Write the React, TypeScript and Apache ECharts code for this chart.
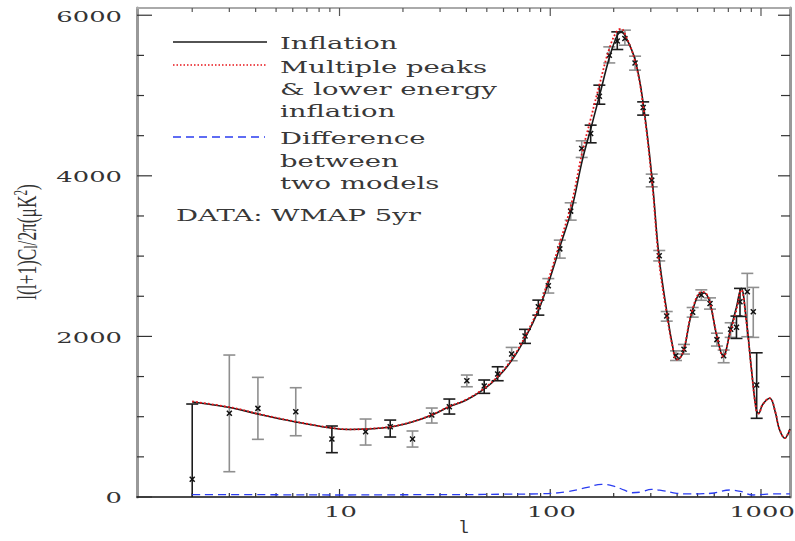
import React, { useEffect, useRef } from "react";
import * as echarts from "echarts";

// ---- model curves (multipole l, value in μK²) ----
const modelL = [2, 3.1, 4.1, 6.2, 9.1, 11.2, 13.4, 17.4, 22.1, 27.5, 33, 40, 48.5, 56.5, 65.8, 76, 88, 97.6, 111, 126, 142, 156, 171, 191, 208, 217, 226, 253, 276, 304, 328, 360, 380, 398, 413, 431, 471, 523, 540, 571, 617, 662, 716, 763, 805, 852, 902, 950, 975, 1017, 1100, 1171, 1220, 1300, 1340, 1373];
const inflation = [1183, 1108, 1033, 934, 859, 840, 846, 871, 934, 1021, 1120, 1208, 1344, 1494, 1705, 1979, 2328, 2652, 3112, 3573, 4195, 4594, 4992, 5477, 5751, 5790, 5751, 5440, 4905, 3971, 3000, 2253, 1892, 1714, 1730, 1830, 2303, 2543, 2540, 2428, 2004, 1755, 2079, 2353, 2598, 2203, 1581, 1083, 1042, 1150, 1229, 1050, 850, 731, 780, 846];
const multiplePeaks = [1190, 1112, 1036, 938, 862, 843, 848, 874, 937, 1025, 1125, 1214, 1352, 1505, 1720, 2000, 2355, 2690, 3165, 3650, 4300, 4720, 5130, 5590, 5810, 5830, 5770, 5420, 4870, 3920, 2940, 2220, 1880, 1712, 1735, 1840, 2320, 2555, 2550, 2435, 2010, 1750, 2060, 2320, 2580, 2190, 1570, 1080, 1040, 1150, 1232, 1055, 855, 735, 782, 848];

// ---- difference between the two models ----
const diffL = [2, 5, 10, 20, 40, 60, 90, 120, 150, 175, 200, 225, 244, 270, 302, 340, 398, 450, 510, 600, 711, 800, 916, 1000, 1200, 1373];
const difference = [30, 28, 25, 28, 30, 35, 40, 66, 120, 158, 135, 85, 53, 62, 96, 80, 46, 38, 40, 50, 87, 70, 25, 30, 40, 40];

// ---- WMAP 5yr data points ----
const obsL = [2, 3, 4.1, 6.2, 9.2, 13.3, 17.4, 22.2, 27.4, 33.2, 40.2, 48.6, 56.3, 65.6, 75.9, 87.8, 97.9, 111, 125, 141, 155.5, 171, 190.6, 208, 226, 252.6, 276, 303, 329, 357, 395, 431, 474, 521, 573, 618, 665, 718, 765, 795, 861, 919, 954];
const obsVal = [220, 1042, 1104, 1062, 722, 813, 875, 722, 1021, 1124, 1448, 1382, 1531, 1780, 2004, 2369, 2630, 3090, 3560, 4341, 4527, 4992, 5502, 5680, 5710, 5406, 4851, 3946, 3005, 2253, 1762, 1840, 2300, 2515, 2411, 1960, 1760, 2090, 2115, 2431, 2556, 2307, 1394];
const obsLow = [-500, 315, 718, 763, 552, 647, 747, 622, 921, 1033, 1373, 1291, 1448, 1697, 1913, 2265, 2540, 2975, 3448, 4229, 4411, 4892, 5406, 5573, 5627, 5316, 4756, 3863, 2940, 2190, 1700, 1780, 2240, 2450, 2340, 1880, 1672, 1988, 1975, 2249, 1996, 1988, 980];
const obsHigh = [1158, 1768, 1490, 1361, 884, 971, 958, 822, 1108, 1220, 1519, 1457, 1622, 1863, 2088, 2452, 2720, 3199, 3664, 4436, 4631, 5129, 5606, 5793, 5814, 5490, 4921, 4021, 3070, 2310, 1820, 1900, 2360, 2580, 2480, 2040, 1830, 2170, 2253, 2598, 2785, 2610, 1796];
const obsTone = [0, 1, 1, 1, 0, 1, 0, 1, 1, 0, 1, 0, 0, 1, 0, 0, 1, 1, 1, 1, 0, 0, 1, 0, 1, 1, 0, 1, 1, 1, 1, 1, 1, 1, 1, 1, 1, 1, 0, 0, 1, 1, 0];

// ---- ticks and tick labels ----
const xMajorTicks = [10, 100, 1000];
const xTickLabels = ["10", "100", "1000"];
const xMinorTicks = [2, 3, 4, 5, 6, 7, 8, 9, 20, 30, 40, 50, 60, 70, 80, 90, 200, 300, 400, 500, 600, 700, 800, 900];
const yMajorTicks = [0, 2000, 4000, 6000];
const yTickLabels = ["0", "2000", "4000", "6000"];
const yMinorTicks = [500, 1000, 1500, 2500, 3000, 3500, 4500, 5000, 5500];

const SERIF = "'DejaVu Serif', serif";
const MONO = "'Liberation Mono', 'DejaVu Sans Mono', monospace";
const STRETCH = 1.72;

export default function App() {
  const ref = useRef<HTMLDivElement>(null);

  useEffect(() => {
    if (!ref.current) return;
    const chart = echarts.init(ref.current, null, { renderer: "svg" });

    const xTickData = [
      ...xMajorTicks.map((v, i) => [v, 3000, 1, i]),
      ...xMinorTicks.map((v) => [v, 3000, 0, -1]),
    ];
    const yTickData = [
      ...yMajorTicks.map((v, i) => [10, v, 1, i]),
      ...yMinorTicks.map((v) => [10, v, 0, -1]),
    ];
    const obsData = obsL.map((l, i) => [l, obsVal[i], obsLow[i], obsHigh[i], obsTone[i]]);

    const tickText = (text: string, x: number, y: number, align: string) => ({
      type: "text",
      x,
      y,
      scaleX: STRETCH,
      style: { text, fontFamily: SERIF, fontSize: 15, fill: "#333", align, verticalAlign: "middle" },
    });

    const legendText = (text: string, x: number, y: number) => ({
      type: "text",
      x,
      y,
      scaleX: STRETCH,
      z: 100,
      style: {
        text,
        fontFamily: SERIF,
        fontSize: 16,
        fill: "#383838",
        verticalAlign: "middle",
        align: "left",
      },
    });

    const option: any = {
      animation: false,
      backgroundColor: "#ffffff",
      grid: { left: 137, right: 5, top: 8, bottom: 44, containLabel: false, outerBoundsMode: "none" },
      xAxis: [
        {
          type: "log",
          logBase: 10,
          min: 1.094,
          max: 1373,
          position: "bottom",
          axisLine: { onZero: false, lineStyle: { color: "#111", width: 1.5 } },
          axisTick: { show: false },
          minorTick: { show: false },
          splitLine: { show: false },
          axisLabel: { show: false },
          name: "l",
          nameLocation: "middle",
          nameGap: 22,
          nameTextStyle: { fontFamily: MONO, fontSize: 18, color: "#333" },
        },
        {
          type: "log",
          logBase: 10,
          min: 1.094,
          max: 1373,
          position: "top",
          axisLine: { onZero: false, lineStyle: { color: "#aaa", width: 2 } },
          axisTick: { show: false },
          axisLabel: { show: false },
          splitLine: { show: false },
        },
      ],
      yAxis: [
        {
          type: "value",
          min: 0,
          max: 6090,
          interval: 2000,
          axisLine: { show: true, lineStyle: { color: "#999", width: 3 } },
          axisTick: { show: false },
          splitLine: { show: false },
          axisLabel: { show: false },
        },
        {
          type: "value",
          position: "right",
          min: 0,
          max: 6090,
          interval: 2000,
          axisLine: { show: true, lineStyle: { color: "#999", width: 3 } },
          axisTick: { show: false },
          axisLabel: { show: false },
          splitLine: { show: false },
        },
      ],
      series: [
        {
          type: "custom",
          name: "ticksX",
          xAxisIndex: 0,
          yAxisIndex: 0,
          encode: { x: 0, y: 1 },
          silent: true,
          data: xTickData,
          renderItem: (params: any, api: any) => {
            const cs = params.coordSys;
            const x = api.coord([api.value(0), 3000])[0];
            const major = api.value(2) === 1;
            const len = major ? 8 : 4;
            const bottom = cs.y + cs.height;
            const children: any[] = [
              { type: "line", shape: { x1: x, y1: bottom, x2: x, y2: bottom - len }, style: { stroke: "#333", lineWidth: 1.2 } },
              { type: "line", shape: { x1: x, y1: cs.y, x2: x, y2: cs.y + len }, style: { stroke: "#555", lineWidth: 1.2 } },
            ];
            if (major) children.push(tickText(xTickLabels[api.value(3)], x + 1, bottom + 15, "center"));
            return { type: "group", children };
          },
        },
        {
          type: "custom",
          name: "ticksY",
          xAxisIndex: 0,
          yAxisIndex: 0,
          encode: { x: 0, y: 1 },
          silent: true,
          data: yTickData,
          renderItem: (params: any, api: any) => {
            const cs = params.coordSys;
            const y = api.coord([10, api.value(1)])[1];
            const major = api.value(2) === 1;
            const len = major ? 15 : 7;
            const right = cs.x + cs.width;
            const children: any[] = [
              { type: "line", shape: { x1: cs.x, y1: y, x2: cs.x + len, y2: y }, style: { stroke: "#333", lineWidth: 1.2 } },
              { type: "line", shape: { x1: right, y1: y, x2: right - (major ? 12 : 9), y2: y }, style: { stroke: "#333", lineWidth: 1.2 } },
            ];
            if (major) children.push(tickText(yTickLabels[api.value(3)], cs.x - 15, y + 1, "right"));
            return { type: "group", children };
          },
        },
        {
          type: "custom",
          name: "DATA: WMAP 5yr",
          xAxisIndex: 0,
          yAxisIndex: 0,
          encode: { x: 0, y: 1 },
          data: obsData,
          renderItem: (params: any, api: any) => {
            const cs = params.coordSys;
            const bottom = cs.y + cs.height;
            const l = api.value(0);
            const [x, y] = api.coord([l, api.value(1)]);
            let yLo = api.coord([l, api.value(2)])[1];
            const yHi = api.coord([l, api.value(3)])[1];
            const clipped = yLo > bottom;
            if (clipped) yLo = bottom;
            const color = api.value(4) ? "#8f8f8f" : "#1c1c1c";
            const cw = 6;
            const children: any[] = [
              { type: "line", shape: { x1: x, y1: yLo, x2: x, y2: yHi }, style: { stroke: color, lineWidth: 1.6 } },
              { type: "line", shape: { x1: x - cw, y1: yHi, x2: x + cw, y2: yHi }, style: { stroke: color, lineWidth: 1.6 } },
            ];
            if (!clipped) {
              children.push({ type: "line", shape: { x1: x - cw, y1: yLo, x2: x + cw, y2: yLo }, style: { stroke: color, lineWidth: 1.6 } });
            }
            children.push({ type: "line", shape: { x1: x - 2.5, y1: y - 2.5, x2: x + 2.5, y2: y + 2.5 }, style: { stroke: "#111", lineWidth: 1.5 } });
            children.push({ type: "line", shape: { x1: x - 2.5, y1: y + 2.5, x2: x + 2.5, y2: y - 2.5 }, style: { stroke: "#111", lineWidth: 1.5 } });
            return { type: "group", children };
          },
        },
        {
          type: "line",
          name: "Inflation",
          xAxisIndex: 0,
          yAxisIndex: 0,
          data: modelL.map((l, i) => [l, inflation[i]]),
          smooth: 0.4,
          symbol: "none",
          lineStyle: { color: "#1a1a1a", width: 1.6 },
        },
        {
          type: "line",
          name: "Multiple peaks & lower energy inflation",
          xAxisIndex: 0,
          yAxisIndex: 0,
          data: modelL.map((l, i) => [l, multiplePeaks[i]]),
          smooth: 0.4,
          symbol: "none",
          lineStyle: { color: "#e8141a", width: 1.8, type: [1.8, 2.2] },
        },
        {
          type: "line",
          name: "Difference between two models",
          xAxisIndex: 0,
          yAxisIndex: 0,
          data: diffL.map((l, i) => [l, difference[i]]),
          smooth: 0.4,
          symbol: "none",
          lineStyle: { color: "#2a3cf0", width: 1.3, type: [8, 5] },
        },
      ],
      graphic: [
        { type: "line", z: 100, shape: { x1: 173, y1: 42, x2: 267, y2: 42 }, style: { stroke: "#1a1a1a", lineWidth: 1.5 } },
        legendText("Inflation", 280, 43),
        { type: "line", z: 100, shape: { x1: 173, y1: 65, x2: 267, y2: 65 }, style: { stroke: "#e8141a", lineWidth: 1.5, lineDash: [1.5, 2] } },
        legendText("Multiple peaks", 280, 67),
        legendText("& lower energy", 280, 89),
        legendText("inflation", 280, 111),
        { type: "line", z: 100, shape: { x1: 173, y1: 137, x2: 265, y2: 137 }, style: { stroke: "#2a3cf0", lineWidth: 1.3, lineDash: [8, 5] } },
        legendText("Difference", 280, 138),
        legendText("between", 280, 161),
        legendText("two models", 280, 183),
        legendText("DATA: WMAP 5yr", 176, 215),
        {
          type: "text",
          x: 26,
          y: 242,
          rotation: Math.PI / 2,
          scaleX: 0.62,
          z: 100,
          style: {
            text: "l(l+1)C{sub|l}/2π(μK{sup|2})",
            fontFamily: "'Liberation Serif', 'DejaVu Serif', serif",
            fontSize: 28,
            fill: "#333",
            align: "center",
            verticalAlign: "middle",
            rich: {
              sub: { fontSize: 18, fontFamily: "'Liberation Serif', serif", verticalAlign: "bottom", fill: "#333" },
              sup: { fontSize: 18, fontFamily: "'Liberation Serif', serif", verticalAlign: "top", fill: "#333" },
            },
          },
        },
      ],
    };

    chart.setOption(option);
    return () => chart.dispose();
  }, []);

  return (
    <div
      ref={ref}
      style={{ position: "fixed", left: 0, top: 0, width: 795, height: 541, background: "#fff" }}
    />
  );
}
